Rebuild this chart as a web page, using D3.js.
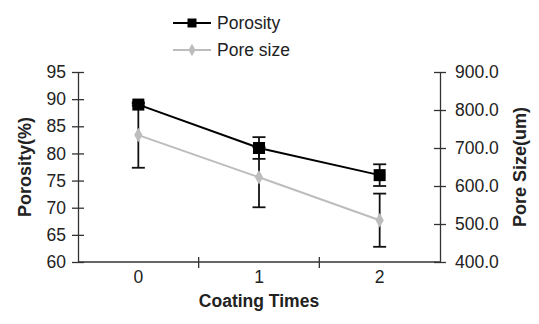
<!DOCTYPE html>
<html>
<head>
<meta charset="utf-8">
<script src="https://cdn.jsdelivr.net/npm/d3@7"></script>
<style>
  body { margin: 0; background: #fff; }
  svg { display: block; font-family: "Liberation Sans", Arial, sans-serif; }
</style>
</head>
<body>
<svg width="539" height="324"></svg>
<script>
const categories = ["0", "1", "2"];
const porosity = [89, 81, 76];
const porosityErr = [0.2, 2, 2];
const poreSize = [734, 623, 510];
const poreErr = [86, 79, 70];
const leftTicks = [60, 65, 70, 75, 80, 85, 90, 95];
const rightTicks = [400, 500, 600, 700, 800, 900];

const svg = d3.select("svg");
const margin = {left: 78, right: 99, top: 72, bottom: 62};
const W = 539, H = 324;
const x0 = margin.left, x1 = W - margin.right, yTop = margin.top, yBot = H - margin.bottom;

const x = d3.scaleBand().domain(categories).range([x0, x1]);
const cx = d => x(d) + x.bandwidth() / 2;
const yL = d3.scaleLinear().domain([60, 95]).range([yBot, yTop]);
const yR = d3.scaleLinear().domain([400, 900]).range([yBot, yTop]);

const axisCol = "#333", textCol = "#222", fs = 17.5;

// axes
const left = svg.append("g").attr("transform", `translate(${x0},0)`)
  .call(d3.axisLeft(yL).tickValues(leftTicks).tickSize(0).tickPadding(12));
const right = svg.append("g").attr("transform", `translate(${x1},0)`)
  .call(d3.axisRight(yR).tickValues(rightTicks).tickFormat(d3.format(".1f")).tickSize(0).tickPadding(15));
[left, right].forEach(g => {
  g.select(".domain").attr("stroke", axisCol).attr("stroke-width", 1.3);
  g.selectAll(".tick line").remove();
  g.selectAll(".tick").append("line").attr("x1", -6).attr("x2", 6).attr("stroke", axisCol).attr("stroke-width", 1.3);
  g.selectAll("text").attr("font-size", fs).attr("fill", textCol);
});

// x axis
const xg = svg.append("g");
xg.append("line").attr("x1", x0).attr("x2", x1).attr("y1", yBot).attr("y2", yBot)
  .attr("stroke", axisCol).attr("stroke-width", 1.3);
xg.selectAll(".sep").data(categories.slice(1)).enter().append("line")
  .attr("x1", d => x(d)).attr("x2", d => x(d))
  .attr("y1", yBot - 5).attr("y2", yBot + 6)
  .attr("stroke", axisCol).attr("stroke-width", 1.3);
xg.selectAll(".lab").data(categories).enter().append("text")
  .attr("x", d => cx(d)).attr("y", yBot + 21)
  .attr("text-anchor", "middle").attr("font-size", fs).attr("fill", textCol)
  .text(d => d);

// axis titles
svg.append("text").attr("transform", `translate(31,${(yTop + yBot) / 2}) rotate(-90)`)
  .attr("text-anchor", "middle").attr("font-size", 18).attr("font-weight", "bold").attr("fill", textCol)
  .text("Porosity(%)");
svg.append("text").attr("transform", `translate(526,${(yTop + yBot) / 2}) rotate(-90)`)
  .attr("text-anchor", "middle").attr("font-size", 18).attr("font-weight", "bold").attr("fill", textCol)
  .text("Pore Size(um)");
svg.append("text").attr("x", (x0 + x1) / 2).attr("y", 307)
  .attr("text-anchor", "middle").attr("font-size", 17.5).attr("font-weight", "bold").attr("fill", textCol)
  .text("Coating Times");

// lines
const grayCol = "#bdbdbd";
const lineL = d3.line().x((d, i) => cx(categories[i])).y(d => yL(d));
const lineR = d3.line().x((d, i) => cx(categories[i])).y(d => yR(d));
svg.append("path").attr("d", lineR(poreSize)).attr("fill", "none").attr("stroke", grayCol).attr("stroke-width", 2);
svg.append("path").attr("d", lineL(porosity)).attr("fill", "none").attr("stroke", "#000").attr("stroke-width", 2);

// error bars
function errBars(vals, errs, scale) {
  const g = svg.append("g").attr("stroke", "#111").attr("stroke-width", 1.8);
  vals.forEach((v, i) => {
    const c = cx(categories[i]);
    const a = scale(v - errs[i]), b = scale(v + errs[i]);
    g.append("line").attr("x1", c).attr("x2", c).attr("y1", a).attr("y2", b);
    g.append("line").attr("x1", c - 6.5).attr("x2", c + 6.5).attr("y1", a).attr("y2", a);
    g.append("line").attr("x1", c - 6.5).attr("x2", c + 6.5).attr("y1", b).attr("y2", b);
  });
}
errBars(poreSize, poreErr, yR);
errBars(porosity, porosityErr, yL);

// markers
const diamond = d3.symbol().type(d3.symbolDiamond).size(60);
svg.selectAll(".dm").data(poreSize).enter().append("path")
  .attr("d", diamond).attr("fill", grayCol)
  .attr("transform", (d, i) => `translate(${cx(categories[i])},${yR(d)})`);
svg.selectAll(".sq").data(porosity).enter().append("rect")
  .attr("x", (d, i) => cx(categories[i]) - 6).attr("y", d => yL(d) - 6)
  .attr("width", 12).attr("height", 12).attr("fill", "#000");

// legend
const leg = svg.append("g");
leg.append("line").attr("x1", 173).attr("x2", 211).attr("y1", 23).attr("y2", 23).attr("stroke", "#000").attr("stroke-width", 2);
leg.append("rect").attr("x", 187.5).attr("y", 18.5).attr("width", 9).attr("height", 9).attr("fill", "#000");
leg.append("text").attr("x", 217).attr("y", 29).attr("font-size", fs).attr("fill", textCol).text("Porosity");
leg.append("line").attr("x1", 173).attr("x2", 211).attr("y1", 50).attr("y2", 50).attr("stroke", grayCol).attr("stroke-width", 2);
leg.append("path").attr("d", d3.symbol().type(d3.symbolDiamond).size(45)).attr("fill", grayCol)
  .attr("transform", "translate(192,50)");
leg.append("text").attr("x", 217).attr("y", 56).attr("font-size", fs).attr("fill", textCol).text("Pore size");
</script>
</body>
</html>
